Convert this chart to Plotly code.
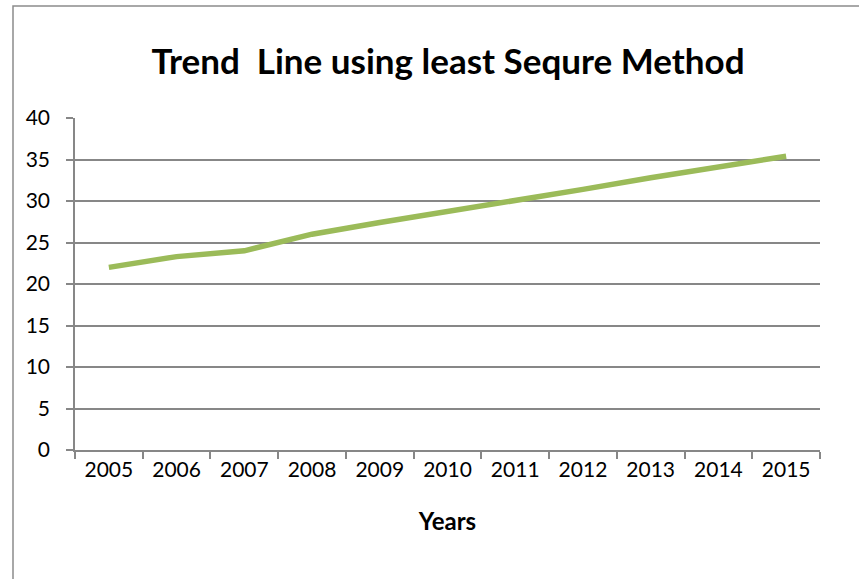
import plotly.graph_objects as go

years = ["2005", "2006", "2007", "2008", "2009", "2010", "2011", "2012", "2013", "2014", "2015"]
trend_values = [22.0, 23.3, 24.0, 26.0, 27.4, 28.7, 30.1, 31.4, 32.8, 34.1, 35.4]
y_ticks = [0, 5, 10, 15, 20, 25, 30, 35, 40]

W, H = 859, 579
L, R, T, B = 75, 39, 118, 129
pw, ph = W - L - R, H - T - B

def px_x(p):
    return (p - L) / pw

def px_y(p):
    return (H - B - p) / ph

FONT = "Lato"
GRID = "#878787"

fig = go.Figure()
fig.add_trace(go.Scatter(
    x=years, y=trend_values, mode="lines",
    line=dict(color="#9BBB59", width=5.5),
    showlegend=False, hoverinfo="skip",
))

fig.update_layout(
    width=W, height=H,
    margin=dict(l=L, r=R, t=T, b=B),
    paper_bgcolor="white", plot_bgcolor="white",
    title=dict(text="<b>Trend  Line using least Sequre Method</b>",
               x=px_x(448), xref="paper", xanchor="center",
               y=1 - 62 / H, yanchor="middle",
               font=dict(family=FONT, size=35, color="black")),
    font=dict(family=FONT, color="black"),
)

fig.update_xaxes(
    type="category", showgrid=False, showline=True, linecolor=GRID, linewidth=1.5,
    ticks="outside", tickson="boundaries", ticklen=7, tickcolor=GRID, tickwidth=1.5,
    tickfont=dict(family=FONT, size=21, color="black"),
    title=dict(text="<b>Years</b>", font=dict(family=FONT, size=24, color="black"), standoff=33),
    range=[-0.5, len(years) - 0.5], zeroline=False,
)
fig.update_yaxes(
    range=[0, 40], tickvals=y_ticks, showgrid=True, gridcolor=GRID, gridwidth=1.5,
    showline=True, linecolor=GRID, linewidth=1.5,
    ticks="outside", ticklen=7, tickcolor=GRID, tickwidth=1.5,
    tickfont=dict(family=FONT, size=21, color="black"),
    ticklabelstandoff=12, zeroline=False,
)

# chart-area border (left and top visible)
fig.add_shape(type="rect", xref="paper", yref="paper",
              x0=px_x(13), x1=px_x(W + 20), y0=px_y(H + 20), y1=px_y(6),
              line=dict(color="#8c8c8c", width=1.5), fillcolor="rgba(0,0,0,0)",
              layer="below")

fig.write_html("out.html")
